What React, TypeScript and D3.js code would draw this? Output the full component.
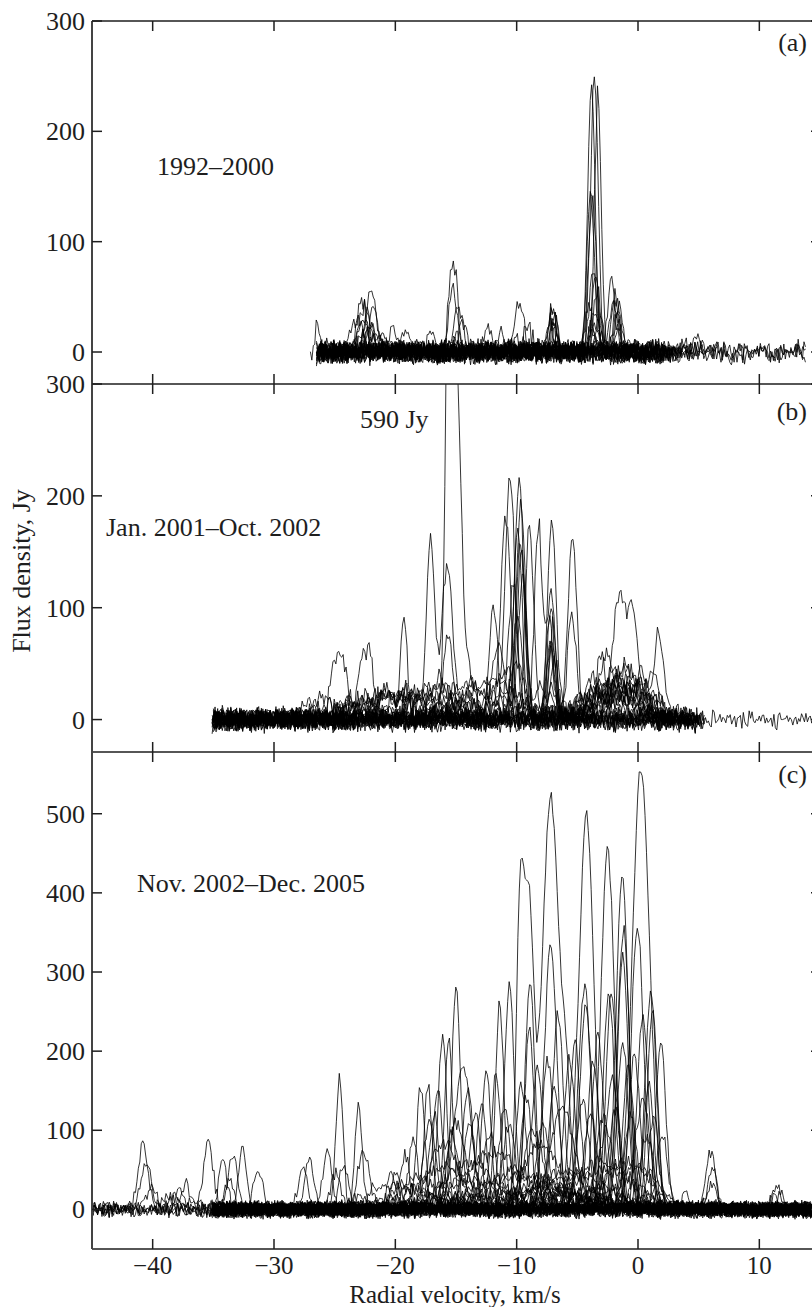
import React, { useMemo } from "react";
import * as d3 from "d3";

// ---- axis ticks and labels -------------------------------------------------
const VELOCITY_TICKS = [-40, -30, -20, -10, 0, 10];
const FLUX_TICKS_A = [0, 100, 200, 300];
const FLUX_TICKS_B = [0, 100, 200, 300];
const FLUX_TICKS_C = [0, 100, 200, 300, 400, 500];
const PANEL_TAGS = ["(a)", "(b)", "(c)"];
const PERIODS = ["1992\u20132000", "Jan. 2001\u2013Oct. 2002", "Nov. 2002\u2013Dec. 2005"];
const CLIPPED_PEAK_NOTE = "590 Jy";

// ---- spectra ----------------------------------------------------------------
// Each spectrum: [first velocity, last velocity, emission components]
// component: [centre velocity km/s, peak flux Jy, dispersion km/s]
type Comp = [number, number, number];
type Spectrum = [number, number, Comp[]];

const SPECTRA_1992_2000: Spectrum[] = [
  [-27.0, 13.8, [[-26.4, 26, 0.15], [-3.6, 252, 0.3], [-22.3, 20, 0.5]]],
  [-26.5, 13.8, [[-3.85, 244, 0.3], [-22.0, 58, 0.4], [4.8, 14, 0.3]]],
  [-26.5, 5.5, [[-3.3, 232, 0.28], [-15.45, 62, 0.24], [-15.0, 62, 0.24]]],
  [-26.5, 2.5, [[-3.9, 148, 0.3], [-15.25, 62, 0.33], [-22.8, 46, 0.4]]],
  [-26.4, 1.8, [[-3.75, 138, 0.32], [-9.8, 45, 0.35], [-2.2, 64, 0.3]]],
  [-26.5, 3.2, [[-3.7, 76, 0.3], [-14.8, 40, 0.35], [-7.0, 42, 0.3]]],
  [-26.5, 0.5, [[-3.5, 68, 0.3], [-22.5, 40, 0.45], [-1.9, 55, 0.3]]],
  [-26.4, 4.0, [[-3.4, 58, 0.3], [-7.1, 37, 0.3], [-1.7, 48, 0.3]]],
  [-26.5, 1.0, [[-4.0, 45, 0.3], [-14.5, 28, 0.35], [-21.8, 36, 0.4]]],
  [-26.5, 2.0, [[-6.9, 33, 0.3], [-20.2, 24, 0.3], [-1.5, 40, 0.3]]],
  [-26.3, 0.0, [[-7.2, 30, 0.3], [-23.2, 30, 0.45], [-9.1, 27, 0.3]]],
  [-26.5, 6.5, [[-12.4, 24, 0.3], [-2.0, 44, 0.35], [-3.6, 40, 0.3]]],
  [-26.4, 1.5, [[-11.3, 20, 0.3], [-22.2, 34, 0.4], [-6.8, 25, 0.3]]],
  [-26.5, 3.0, [[-19.1, 20, 0.3], [-3.2, 35, 0.3]]],
  [-26.5, -0.5, [[-17.0, 22, 0.3], [-22.6, 28, 0.4], [-3.8, 30, 0.3]]],
  [-26.5, 2.2, [[-7.0, 28, 0.3], [-1.8, 32, 0.3]]],
  [-26.4, 1.0, [[-3.5, 25, 0.3], [-21.9, 22, 0.5]]],
  [-26.5, 3.5, [[-21.5, 18, 0.5]]],
  [-26.4, 0.8, [[-3.7, 20, 0.3]]],
  [-26.3, 2.8, [[-7.0, 20, 0.3]]],
  [-26.5, 1.2, []],
  [-26.5, 4.5, [[-1.6, 20, 0.3]]],
  [-26.4, -1.0, [[-23.0, 15, 0.4]]],
  [-26.5, 2.0, []],
  [-26.5, 0.3, [[-15.0, 15, 0.3]]],
  [-26.2, 3.8, []],
  [-26.5, 1.5, [[-9.9, 15, 0.3]]],
  [-26.4, 13.8, []],
];

const SPECTRA_2001_2002: Spectrum[] = [
  [-35.0, 14.6, [[-15.45, 590, 0.32], [-14.75, 200, 0.3], [-13.9, 40, 0.5], [-19.0, 10, 3.0]]],
  [-35.1, 5.5, [[-15.7, 132, 0.45], [-17.1, 152, 0.32], [-20.5, 20, 3.0]]],
  [-35.0, 5.0, [[-19.3, 92, 0.28], [-10.55, 217, 0.4], [-1.6, 92, 0.45], [-0.45, 80, 0.45], [-1.0, 20, 1.5]]],
  [-35.1, 4.5, [[-25.0, 46, 0.35], [-24.3, 44, 0.35], [-20.0, 18, 3.0], [-9.6, 150, 0.35]]],
  [-35.0, 4.0, [[-22.8, 55, 0.3], [-22.1, 60, 0.3], [-9.8, 212, 0.38], [-2.0, 30, 2.0]]],
  [-35.1, 5.0, [[-10.9, 186, 0.4], [-7.1, 173, 0.35], [-1.5, 35, 2.5]]],
  [-35.0, 4.8, [[-9.65, 196, 0.35], [-5.4, 158, 0.38], [-18.0, 25, 4.0]]],
  [-35.1, 3.8, [[-8.95, 178, 0.33], [-11.9, 98, 0.35], [-1.0, 30, 2.0]]],
  [-35.0, 5.2, [[-8.2, 175, 0.33], [-7.15, 113, 0.33], [1.75, 64, 0.35], [-0.5, 25, 2.0]]],
  [-35.1, 4.2, [[-5.45, 92, 0.38], [-9.9, 98, 0.35], [-3.05, 62, 0.35]]],
  [-35.0, 4.0, [[-7.2, 100, 0.3], [-9.7, 160, 0.35], [-20.0, 20, 3.0]]],
  [-35.1, 3.5, [[-7.3, 90, 0.3], [-9.5, 130, 0.35], [-1.0, 50, 1.0]]],
  [-35.0, 5.4, [[-7.0, 85, 0.3], [-10.3, 120, 0.4], [-2.5, 55, 0.8]]],
  [-35.1, 4.6, [[-7.2, 75, 0.3], [-9.9, 175, 0.35], [0.3, 40, 0.8]]],
  [-35.0, 3.0, [[-7.1, 70, 0.3], [-3.5, 35, 0.8], [-16.5, 35, 0.6]]],
  [-35.1, 4.4, [[-7.25, 60, 0.3], [-16.0, 30, 2.0], [-2.0, 40, 1.5]]],
  [-35.0, 5.0, [[-6.9, 55, 0.35], [-12.0, 35, 2.0], [-1.0, 45, 1.2]]],
  [-35.1, 3.6, [[-20.0, 25, 3.0], [-11.0, 40, 1.0], [-2.0, 30, 1.5]]],
  [-35.0, 4.8, [[-24.0, 15, 2.0], [-14.0, 30, 1.5], [0.0, 30, 1.5]]],
  [-35.1, 3.2, [[-18.0, 20, 3.0], [-8.0, 25, 1.0], [-1.5, 25, 2.0]]],
  [-35.0, 5.5, [[-7.0, 30, 0.4], [-2.0, 20, 2.0]]],
  [-35.1, 4.0, [[-11.5, 70, 0.5], [-15.7, 74, 0.4]]],
  [-35.0, 4.5, [[-3.0, 25, 2.0], [-12.0, 20, 2.5]]],
  [-35.1, 2.8, [[-10.0, 50, 0.6], [1.2, 45, 0.5]]],
  [-35.0, 3.4, [[-26.0, 18, 1.5], [-13.0, 28, 2.0], [-4.0, 22, 1.5]]],
];

const SPECTRA_2002_2005: Spectrum[] = [
  [-45.5, 14.6, [[-40.8, 79, 0.4], [-32.6, 75, 0.35], [-15.0, 275, 0.35], [-4.25, 492, 0.6], [6.0, 76, 0.35], [-10.0, 40, 3.0]]],
  [-45.5, 14.6, [[-40.55, 59, 0.4], [-37.25, 30, 0.4], [-24.6, 163, 0.3], [0.25, 561, 0.7], [6.1, 50, 0.35]]],
  [-45.5, 14.6, [[-40.1, 28, 0.4], [-35.4, 83, 0.4], [-16.1, 224, 0.35], [-2.5, 454, 0.55], [11.5, 29, 0.4]]],
  [-45.5, 14.6, [[-37.8, 22, 0.4], [-33.4, 72, 0.35], [-23.05, 130, 0.3], [-1.3, 422, 0.5], [6.1, 38, 0.4]]],
  [-45.5, 14.6, [[-38.4, 20, 0.4], [-34.2, 60, 0.35], [-17.9, 157, 0.33], [-8.95, 225, 0.4], [11.4, 20, 0.4], [-3.0, 50, 2.5]]],
  [-45.5, 14.6, [[-39.0, 14, 0.5], [-19.2, 70, 0.4], [-8.3, 180, 0.45], [-0.8, 180, 0.45]]],
  [-45.5, 14.6, [[-36.5, 12, 0.5], [-16.8, 120, 0.4], [-5.2, 210, 0.45], [0.9, 160, 0.4]]],
  [-35.1, 14.6, [[-9.7, 395, 0.33], [-8.95, 350, 0.36], [-7.2, 520, 0.7], [-5.9, 120, 0.35], [-27.1, 66, 0.35]]],
  [-35.1, 14.6, [[-1.2, 355, 0.5], [-15.6, 214, 0.33], [-31.3, 46, 0.4], [3.95, 20, 0.3]]],
  [-35.1, 14.6, [[-0.05, 359, 0.5], [-11.4, 260, 0.35], [-27.6, 55, 0.35]]],
  [-35.1, 14.6, [[-7.2, 340, 0.5], [-17.3, 155, 0.33], [-25.6, 72, 0.4], [1.9, 216, 0.4]]],
  [-35.1, 14.6, [[-1.25, 320, 0.45], [-12.5, 172, 0.4], [-24.2, 56, 0.4]]],
  [-35.1, 14.6, [[-8.9, 292, 0.4], [-2.2, 270, 0.45], [-33.7, 40, 0.4]]],
  [-35.1, 14.6, [[-10.6, 285, 0.4], [-3.3, 220, 0.45], [-24.9, 48, 0.4]]],
  [-35.1, 14.6, [[-4.4, 281, 0.5], [-14.45, 182, 0.7], [-22.6, 72, 0.5]]],
  [-35.1, 14.6, [[1.05, 277, 0.45], [-6.6, 250, 0.45], [-20.35, 50, 0.35]]],
  [-35.1, 14.6, [[-2.4, 273, 0.45], [-16.5, 150, 0.4], [-19.95, 49, 0.35]]],
  [-35.1, 14.6, [[-4.3, 256, 0.5], [-11.7, 168, 0.4], [0.4, 140, 0.6]]],
  [-35.1, 14.6, [[0.4, 250, 0.45], [-7.45, 190, 0.45], [-17.2, 110, 0.5]]],
  [-35.1, 14.6, [[1.2, 250, 0.4], [-5.65, 195, 0.45], [-12.9, 138, 0.4]]],
  [-35.1, 14.6, [[-1.25, 210, 0.45], [-9.65, 157, 0.4], [-15.0, 110, 0.8]]],
  [-35.1, 14.6, [[-0.3, 200, 0.45], [-4.55, 140, 0.5], [-13.9, 104, 0.5]]],
  [-35.1, 14.6, [[-2.1, 170, 0.5], [-7.85, 110, 0.5], [2.0, 100, 0.4]]],
  [-35.1, 14.6, [[-6.2, 130, 1.0], [-1.85, 130, 0.5], [-18.0, 40, 2.0]]],
  [-35.1, 14.6, [[-2.9, 118, 0.5], [-10.6, 110, 0.5], [-20.0, 30, 2.5]]],
  [-35.1, 14.6, [[1.3, 118, 0.4], [-14.0, 60, 2.0], [-6.0, 50, 2.0]]],
  [-35.1, 14.6, [[-14.0, 150, 0.45], [-9.2, 140, 0.45], [-3.7, 190, 0.45]]],
  [-35.1, 14.6, [[-13.4, 120, 0.45], [-6.9, 160, 0.45], [-0.6, 120, 0.5]]],
  [-35.1, 14.6, [[-12.2, 100, 0.5], [-3.9, 120, 0.5], [-18.5, 90, 0.4]]],
  [-35.1, 14.6, [[-11.0, 130, 0.45], [-15.3, 95, 0.45], [-2.6, 100, 0.6]]],
  [-35.1, 14.6, [[-16.0, 85, 1.2], [-8.6, 100, 0.8], [0.7, 90, 0.6]]],
  [-35.1, 14.6, [[-12.0, 70, 2.5], [-3.0, 60, 2.5]]],
  [-35.1, 14.6, [[-16.0, 55, 2.0], [-8.0, 80, 1.5], [-1.0, 60, 2.0]]],
  [-35.1, 14.6, [[-10.0, 45, 3.5], [0.0, 55, 1.5]]],
  [-35.1, 14.6, [[-14.0, 35, 3.0], [-5.0, 45, 2.5]]],
  [-35.1, 14.6, [[-18.0, 25, 2.0], [-7.0, 30, 3.0]]],
  [-35.1, 14.6, [[-4.0, 25, 3.0], [-12.0, 20, 3.0]]],
  [-35.1, 14.6, [[-6.0, 18, 4.0]]],
  [-35.1, 14.6, [[-9.0, 22, 4.0]]],
  [-35.1, 14.6, []],
  [-35.1, 14.6, [[-2.0, 15, 3.0]]],
  [-35.1, 14.6, [[-5.5, 12, 2.5]]],
  [-35.1, 14.6, [[-13.0, 15, 3.0]]],
  [-35.1, 14.6, [[-7.0, 10, 3.0]]],
  [-35.1, 14.6, [[-6.0, 20, 2.0]]],
];

// Receiver noise samples (units of rms), cycled through per spectrum
const NOISE = [
  0.3, -1.2, 0.8, 1.6, -0.4, -1.9, 0.1, 1.1, -0.7, 0.5,
  -1.4, 2.0, -0.2, -0.9, 1.3, 0.6, -1.6, 0.9, -0.1, -2.1,
  1.5, 0.2, -0.8, 1.8, -1.1, 0.4, -0.5, 1.0, -1.7, 0.7,
  1.4, -0.3, -1.3, 2.2, -0.6, 0.0, -1.0, 1.2, 0.5, -1.8,
  0.9, -0.2, 1.7, -1.5, 0.3, -0.7, 1.1, -0.4, -2.0, 0.6,
  1.9, -0.9, 0.2, -1.2, 0.8, 1.3, -0.1, -1.6, 0.4, 1.0,
  -0.8, -0.3, 1.6, -1.4, 0.7, -2.2, 0.1, 1.2, -0.5, 0.9,
  -1.1, 1.5, -0.6, 0.3, -1.9, 0.0, 1.8, -0.2, -1.0, 0.6,
  1.4, -1.3, 0.2, -0.7, 2.1, -1.5, 0.5, -0.4, 1.1, -1.7,
  0.8, 0.4, -0.9, 1.3, -0.1, -1.2, 1.7, -0.6, 0.2, -1.8,
  1.0,
];
const NOISE_RMS_JY = 2.9;
const CHANNEL_KMS = 0.12;
const STRIDES_A = [3, 7, 11, 13, 17, 19, 23, 29];
const STRIDES_B = [5, 31, 41, 43, 47, 59, 61, 67];

function sampleSpectrum(s: Spectrum, k: number): [number, number][] {
  const [v0, v1, comps] = s;
  const n = Math.round((v1 - v0) / CHANNEL_KMS);
  const offA = (k * 37 + 11) % 101;
  const offB = (k * 53 + 29) % 97;
  const sA = STRIDES_A[k % 8];
  const sB = STRIDES_B[(k * 3 + 1) % 8];
  const pts: [number, number][] = [];
  for (let i = 0; i <= n; i++) {
    const v = v0 + i * CHANNEL_KMS;
    let f = 0;
    for (const [c, h, w] of comps) f += h * Math.exp(-((v - c) * (v - c)) / (2 * w * w));
    f += NOISE_RMS_JY * (NOISE[(offA + i * sA) % 101] + NOISE[(offB + i * sB) % 97]);
    pts.push([v, f]);
  }
  return pts;
}

const FONT = "'Liberation Serif', 'Times New Roman', serif";
const INK = "#1e1e1e";

export default function App() {
  const W = 812;
  const H = 1307;
  const left = 92;
  const right = 820;

  const x = d3.scaleLinear().domain([-45, 15]).range([left, right]);

  const panels = [
    { id: "a", spectra: SPECTRA_1992_2000, yDomain: [-29, 300], top: 21, bottom: 384, ticks: FLUX_TICKS_A, tagY: 51, periodX: 157, periodY: 175 },
    { id: "b", spectra: SPECTRA_2001_2002, yDomain: [-29, 300], top: 384, bottom: 752, ticks: FLUX_TICKS_B, tagY: 420, periodX: 106, periodY: 536 },
    { id: "c", spectra: SPECTRA_2002_2005, yDomain: [-50, 578], top: 752, bottom: 1249, ticks: FLUX_TICKS_C, tagY: 783, periodX: 137, periodY: 892 },
  ];

  const rendered = useMemo(
    () =>
      panels.map((p) => {
        const y = d3.scaleLinear().domain(p.yDomain).range([p.bottom, p.top]);
        const line = d3
          .line<[number, number]>()
          .x((d) => x(d[0]))
          .y((d) => y(d[1]));
        const paths = p.spectra.map((s, k) => line(sampleSpectrum(s, k + p.id.charCodeAt(0) * 3)) || "");
        return { ...p, y, paths };
      }),
    []
  );

  const hLines = [21, 384, 752, 1249];

  return (
    <div style={{ position: "absolute", left: 0, top: 0, width: W, height: H, overflow: "hidden", background: "#fff" }}>
      <svg width={W} height={H} style={{ display: "block" }}>
        <defs>
          {rendered.map((p) => (
            <clipPath id={`clip-${p.id}`} key={p.id}>
              <rect x={left} y={p.top} width={right - left} height={p.bottom - p.top} />
            </clipPath>
          ))}
        </defs>

        {/* spectra */}
        {rendered.map((p) => (
          <g key={`s-${p.id}`} clipPath={`url(#clip-${p.id})`} fill="none" stroke="#000" strokeWidth={0.8} strokeLinejoin="round">
            {p.paths.map((d, i) => (
              <path key={i} d={d} />
            ))}
          </g>
        ))}

        {/* frame */}
        {hLines.map((yy) => (
          <line key={yy} x1={left} x2={right} y1={yy} y2={yy} stroke={INK} strokeWidth={1.5} />
        ))}
        <line x1={left} x2={left} y1={21} y2={1249} stroke="#444" strokeWidth={2} />
        <line x1={right} x2={right} y1={21} y2={1249} stroke={INK} strokeWidth={1.5} />

        {/* velocity ticks */}
        {VELOCITY_TICKS.map((t) => (
          <g key={`vx-${t}`} stroke={INK} strokeWidth={1.5}>
            <line x1={x(t)} x2={x(t)} y1={21} y2={31} />
            <line x1={x(t)} x2={x(t)} y1={374} y2={394} />
            <line x1={x(t)} x2={x(t)} y1={742} y2={762} />
            <line x1={x(t)} x2={x(t)} y1={1239} y2={1249} />
          </g>
        ))}
        {VELOCITY_TICKS.map((t) => (
          <text key={`vl-${t}`} x={x(t)} y={1274} textAnchor="middle" fontFamily={FONT} fontSize={25} fill={INK}>
            {t < 0 ? `\u2212${Math.abs(t)}` : `${t}`}
          </text>
        ))}

        {/* flux ticks */}
        {rendered.map((p) =>
          p.ticks.map((t) => (
            <g key={`fy-${p.id}-${t}`}>
              <line x1={left} x2={left + 10} y1={p.y(t)} y2={p.y(t)} stroke={INK} strokeWidth={1.5} />
              <line x1={right - 9} x2={right} y1={p.y(t)} y2={p.y(t)} stroke={INK} strokeWidth={1.5} />
              <text x={85} y={p.y(t) + 9} textAnchor="end" fontFamily={FONT} fontSize={26} fill={INK}>
                {t}
              </text>
            </g>
          ))
        )}

        {/* panel annotations */}
        {rendered.map((p, i) => (
          <g key={`ann-${p.id}`} fontFamily={FONT} fontSize={26} fill={INK}>
            <text x={807} y={p.tagY} textAnchor="end">
              {PANEL_TAGS[i]}
            </text>
            <text x={p.periodX} y={p.periodY}>
              {PERIODS[i]}
            </text>
          </g>
        ))}
        <text x={360} y={428} fontFamily={FONT} fontSize={26} fill={INK}>
          {CLIPPED_PEAK_NOTE}
        </text>

        {/* axis titles */}
        <text x={455} y={1303} textAnchor="middle" fontFamily={FONT} fontSize={25} fill={INK}>
          Radial velocity, km/s
        </text>
        <text
          transform="translate(30,571) rotate(-90)"
          textAnchor="middle"
          fontFamily={FONT}
          fontSize={26}
          fill={INK}
        >
          Flux density, Jy
        </text>
      </svg>
    </div>
  );
}
